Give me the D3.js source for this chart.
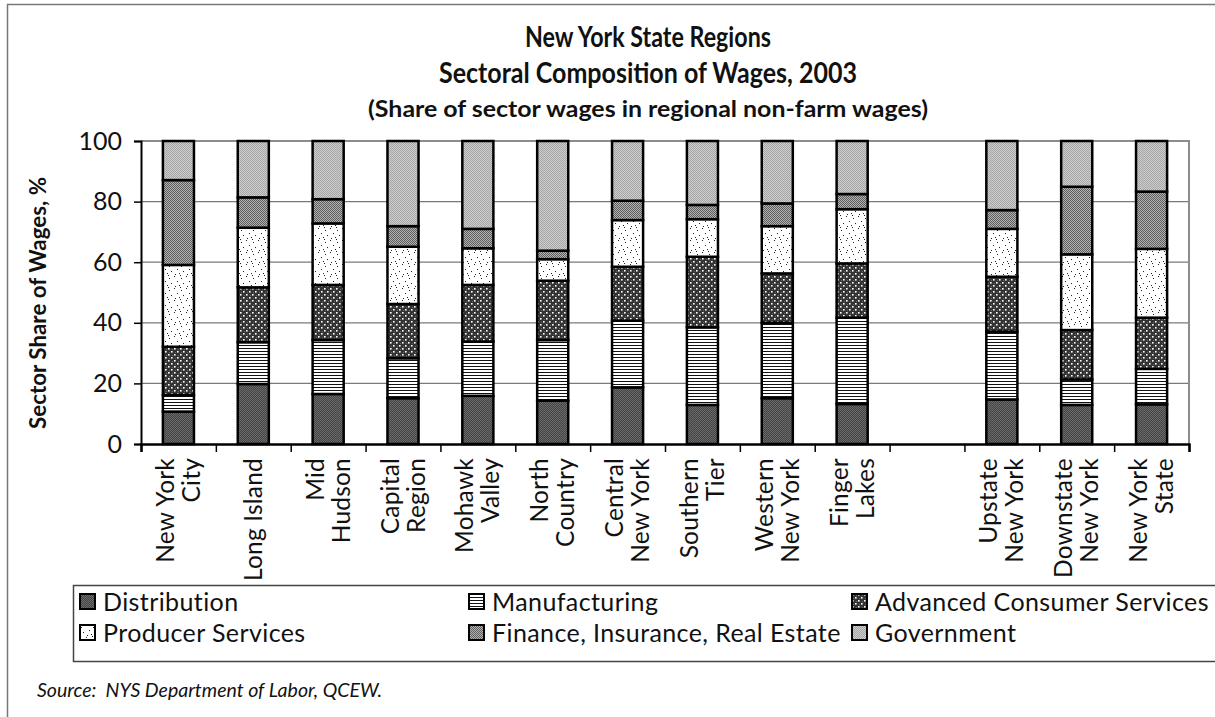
<!DOCTYPE html>
<html>
<head>
<meta charset="utf-8">
<script src="https://cdn.jsdelivr.net/npm/d3@7"></script>
<style>
  body { margin: 0; background: #fff; }
  svg { display: block; }
  text { font-family: Lato, "Open Sans", sans-serif; fill: #111; }
</style>
</head>
<body>
<script>
// regions, in chart order (a blank slot goes between Finger Lakes and Upstate)
var regions = ["New York City", "Long Island", "Mid Hudson", "Capital Region", "Mohawk Valley",
  "North Country", "Central New York", "Southern Tier", "Western New York", "Finger Lakes",
  "Upstate New York", "Downstate New York", "New York State"];
var regionLabels = [["New York", "City"], ["Long Island"], ["Mid", "Hudson"], ["Capital", "Region"],
  ["Mohawk", "Valley"], ["North", "Country"], ["Central", "New York"], ["Southern", "Tier"],
  ["Western", "New York"], ["Finger", "Lakes"], ["Upstate", "New York"], ["Downstate", "New York"],
  ["New York", "State"]];

// sector shares, %
var distribution  = [10.7, 19.8, 16.5, 15.1, 15.9, 14.3, 18.7, 12.9, 15.1, 13.2, 14.7, 12.9, 13.1];
var manufacturing = [ 5.5, 13.8, 17.8, 13.2, 17.9, 20.0, 22.0, 25.6, 24.9, 28.5, 22.4,  8.4, 11.7];
var advConsumer   = [15.9, 18.1, 18.2, 17.9, 18.7, 19.6, 17.8, 23.3, 16.3, 17.9, 18.1, 16.3, 16.9];
var producer      = [27.0, 19.7, 20.3, 18.9, 12.1,  7.1, 15.4, 12.4, 15.6, 17.9, 15.8, 25.0, 22.7];
var fire          = [28.0, 10.0,  8.0,  6.8,  6.4,  2.8,  6.4,  4.7,  7.5,  5.0,  6.2, 22.3, 18.9];
var government    = [12.9, 18.6, 19.2, 28.1, 29.0, 36.2, 19.7, 21.1, 20.6, 17.5, 22.8, 15.1, 16.7];

var sectorNames = ["Distribution", "Manufacturing", "Advanced Consumer Services",
  "Producer Services", "Finance, Insurance, Real Estate", "Government"];
var yTicks = [0, 20, 40, 60, 80, 100];

var keys = ["dist", "manuf", "acs", "prod", "fire", "gov"];
var series = [distribution, manufacturing, advConsumer, producer, fire, government];

// build table for d3.stack
var table = regions.map(function(r, i) {
  var row = { region: r };
  keys.forEach(function(k, j) { row[k] = series[j][i]; });
  return row;
});

var width = 1215, height = 717;
var plotL = 141, plotR = 1189, plotT = 141, plotB = 444;

var svg = d3.select("body").append("svg")
  .attr("width", width).attr("height", height);

// ---- patterns
var defs = svg.append("defs");
function pat(id, w, h) {
  return defs.append("pattern").attr("id", id).attr("patternUnits", "userSpaceOnUse")
    .attr("width", w).attr("height", h);
}
var p = pat("p-dist", 2, 2);
p.append("rect").attr("width", 2).attr("height", 2).attr("fill", "#444");
p.append("rect").attr("width", 1).attr("height", 1).attr("fill", "#6a6a6a");
p.append("rect").attr("x", 1).attr("y", 1).attr("width", 1).attr("height", 1).attr("fill", "#6a6a6a");

p = pat("p-manuf", 3, 3);
p.append("rect").attr("width", 3).attr("height", 3).attr("fill", "#fff");
p.append("rect").attr("width", 3).attr("height", 1).attr("fill", "#111");

p = pat("p-acs", 6, 6);
p.append("rect").attr("width", 6).attr("height", 6).attr("fill", "#333");
p.append("rect").attr("x", 1).attr("y", 4).attr("width", 1).attr("height", 1).attr("fill", "#6a6a6a");
p.append("rect").attr("x", 4).attr("y", 1).attr("width", 1).attr("height", 1).attr("fill", "#6a6a6a");
p.append("rect").attr("x", 0).attr("y", 0).attr("width", 1.6).attr("height", 1.6).attr("fill", "#fff");
p.append("rect").attr("x", 3).attr("y", 3).attr("width", 1.6).attr("height", 1.6).attr("fill", "#fff");

p = pat("p-prod", 12, 12);
p.append("rect").attr("width", 12).attr("height", 12).attr("fill", "#fff");
[[1, 2], [6, 0], [9, 5], [3, 7], [7, 10], [11, 9], [0, 11]].forEach(function(d) {
  p.append("rect").attr("x", d[0]).attr("y", d[1]).attr("width", 1).attr("height", 1).attr("fill", "#222");
});

p = pat("p-fire", 2, 2);
p.append("rect").attr("width", 2).attr("height", 2).attr("fill", "#b2b2b2");
p.append("rect").attr("width", 1).attr("height", 1).attr("fill", "#5e5e5e");
p.append("rect").attr("x", 1).attr("y", 1).attr("width", 1).attr("height", 1).attr("fill", "#5e5e5e");

p = pat("p-gov", 2, 2);
p.append("rect").attr("width", 2).attr("height", 2).attr("fill", "#cdcdcd");
p.append("rect").attr("width", 1).attr("height", 1).attr("fill", "#a6a6a6");
p.append("rect").attr("x", 1).attr("y", 1).attr("width", 1).attr("height", 1).attr("fill", "#a6a6a6");

// ---- outer frame
svg.append("path").attr("d", "M7.5,717V4.5H1215")
  .attr("fill", "none").attr("stroke", "#777").attr("stroke-width", 1.5);

// ---- title
svg.append("text").attr("x", 648).attr("y", 47).attr("text-anchor", "middle")
  .attr("font-size", 29).attr("font-weight", "bold")
  .attr("textLength", 246).attr("lengthAdjust", "spacingAndGlyphs")
  .text("New York State Regions");
svg.append("text").attr("x", 648).attr("y", 83).attr("text-anchor", "middle")
  .attr("font-size", 29).attr("font-weight", "bold")
  .attr("textLength", 418).attr("lengthAdjust", "spacingAndGlyphs")
  .text("Sectoral Composition of Wages, 2003");
svg.append("text").attr("x", 648).attr("y", 117).attr("text-anchor", "middle")
  .attr("font-size", 22).attr("font-weight", "bold")
  .attr("textLength", 560).attr("lengthAdjust", "spacingAndGlyphs")
  .text("(Share of sector wages in regional non-farm wages)");

// ---- scales
var slots = regions.slice(0, 10).concat(["gap"], regions.slice(10));
var x = d3.scaleBand().domain(slots).range([plotL, plotR]).paddingInner(0.585).paddingOuter(0.2925);
var xEdge = d3.scaleLinear().domain([0, slots.length]).range([plotL, plotR]);
var y = d3.scaleLinear().domain([0, 100]).range([plotB, plotT]);

// gridlines
svg.append("g").selectAll("line").data(yTicks.filter(function(t) { return t > 0 && t < 100; }))
  .enter().append("line")
  .attr("x1", plotL).attr("x2", plotR)
  .attr("y1", function(d) { return y(d); }).attr("y2", function(d) { return y(d); })
  .attr("stroke", "#7a7a7a").attr("stroke-width", 1.3);

// plot frame top / right
svg.append("path").attr("d", "M" + plotL + "," + y(100) + "H" + plotR + "V" + plotB)
  .attr("fill", "none").attr("stroke", "#8c8c8c").attr("stroke-width", 2);

// ---- bars
var stack = d3.stack().keys(keys)(table);
svg.append("g").selectAll("g").data(stack).enter().append("g")
  .attr("fill", function(d) { return "url(#p-" + d.key + ")"; })
  .selectAll("rect").data(function(d) { return d; }).enter().append("rect")
  .attr("x", function(d) { return x(d.data.region); })
  .attr("width", x.bandwidth())
  .attr("y", function(d) { return y(d[1]); })
  .attr("height", function(d) { return y(d[0]) - y(d[1]); })
  .attr("stroke", "#000").attr("stroke-width", 2.5);

// ---- axes
var yAxis = svg.append("g").attr("transform", "translate(" + plotL + ",0)")
  .call(d3.axisLeft(y).tickValues(yTicks).tickSize(7).tickPadding(12));
yAxis.select(".domain").attr("stroke", "#000").attr("stroke-width", 2);
yAxis.selectAll(".tick line").attr("stroke", "#000").attr("stroke-width", 1.5);
yAxis.selectAll("text").attr("font-size", 25).attr("fill", "#111")
  .attr("font-family", "Lato, 'Open Sans', sans-serif");

var xAxis = svg.append("g").attr("transform", "translate(0," + plotB + ")")
  .call(d3.axisBottom(xEdge).tickValues(d3.range(0, slots.length + 1)).tickSize(8).tickFormat(""));
xAxis.select(".domain").attr("stroke", "#000").attr("stroke-width", 2.5);
xAxis.selectAll(".tick line").attr("stroke", "#000").attr("stroke-width", 1.5);

// x labels (rotated, up to two lines each)
var labelG = svg.append("g");
regions.forEach(function(r, i) {
  var lines = regionLabels[i];
  var cx = x(r) + x.bandwidth() / 2;
  lines.forEach(function(t, j) {
    var off = (j - (lines.length - 1) / 2) * 26;
    labelG.append("text")
      .attr("transform", "translate(" + (cx + off) + ",458) rotate(-90)")
      .attr("text-anchor", "end").attr("dy", "0.35em")
      .attr("font-size", 24.5).attr("letter-spacing", 0.2)
      .text(t);
  });
});

// y title
svg.append("text").attr("transform", "translate(38,303) rotate(-90)")
  .attr("text-anchor", "middle").attr("dy", "0.35em")
  .attr("font-size", 22).attr("font-weight", "bold")
  .attr("textLength", 252).attr("lengthAdjust", "spacingAndGlyphs")
  .text("Sector Share of Wages, %");

// ---- legend
svg.append("rect").attr("x", 73.5).attr("y", 585.5).attr("width", 1160).attr("height", 76)
  .attr("fill", "none").attr("stroke", "#444").attr("stroke-width", 1.5);
var legCols = [80, 469, 852];
var leg = svg.append("g").selectAll("g").data(keys).enter().append("g")
  .attr("transform", function(d, i) {
    return "translate(" + legCols[i % 3] + "," + (i < 3 ? 594 : 625) + ")";
  });
leg.append("rect").attr("width", 15).attr("height", 15)
  .attr("fill", function(d) { return "url(#p-" + d + ")"; })
  .attr("stroke", "#000").attr("stroke-width", 2);
leg.append("text").attr("x", 23).attr("y", 7.5).attr("dy", "0.36em")
  .attr("font-size", 25).attr("letter-spacing", 0.4)
  .text(function(d, i) { return sectorNames[i]; });

// ---- source
svg.append("text").attr("x", 37).attr("y", 697)
  .attr("font-size", 19.5).attr("font-style", "italic")
  .style("white-space", "pre")
  .text("Source:  NYS Department of Labor, QCEW.");
</script>
</body>
</html>
